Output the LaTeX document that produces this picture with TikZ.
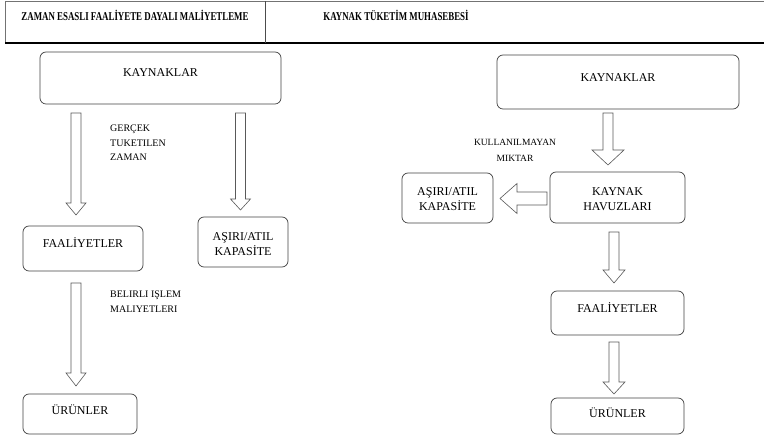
\documentclass[tikz,border=0pt]{standalone}
\usepackage{fontspec}
\setmainfont{Liberation Serif}
\usetikzlibrary{calc}
\tikzset{
  box/.style={draw=black!75, line width=0.7pt, rounded corners=6pt, inner sep=0pt},
  txt/.style={font=\fontsize{12}{15}\selectfont, align=center, inner sep=0pt},
  lbl/.style={font=\fontsize{10}{14.5}\selectfont, align=left, inner sep=0pt, anchor=west},
  hdr/.style={font=\bfseries\fontsize{12}{14}\selectfont, inner sep=0pt},
  arr/.style={draw=black!65, line width=0.6pt, fill=white}
}
\newcommand{\hdrtext}[1]{\scalebox{0.74}[1]{#1}}
% down block arrow: start, end, shaft half, head half, head length
\newcommand{\blkdown}[5]{%
  \draw[arr] let \p1=(#1), \p2=(#2) in
    (\x1-#3pt,\y1) -- (\x1+#3pt,\y1) -- (\x1+#3pt,\y2+#5pt) -- (\x1+#4pt,\y2+#5pt)
    -- (\x1,\y2) -- (\x1-#4pt,\y2+#5pt) -- (\x1-#3pt,\y2+#5pt) -- cycle;}
% left block arrow
\newcommand{\blkleft}[5]{%
  \draw[arr] let \p1=(#1), \p2=(#2) in
    (\x1,\y1+#3pt) -- (\x1,\y1-#3pt) -- (\x2+#5pt,\y1-#3pt) -- (\x2+#5pt,\y1-#4pt)
    -- (\x2,\y1) -- (\x2+#5pt,\y1+#4pt) -- (\x2+#5pt,\y1+#3pt) -- cycle;}
\begin{document}
\begin{tikzpicture}[x=1pt,y=-1pt]
\useasboundingbox (0,0) rectangle (764,435);
% header
\draw[black!55, line width=0.7pt] (764,1.3) -- (5,1.3) -- (5,43);
\draw[black, line width=1.2pt] (5,43) -- (764,43);
\draw[black!70, line width=0.6pt] (265,1.3) -- (265,43);
\node[hdr] (h1) at (135,15) {\hdrtext{ZAMAN ESASLI FAALİYETE DAYALI MALİYETLEME}};
\node[hdr] (h2) at (396,15) {\hdrtext{KAYNAK TÜKETİM MUHASEBESİ}};

% ---------- left side ----------
\node[box, minimum width=241pt, minimum height=52pt] (k1) at (160.5,78) {};
\node[txt] (k1t) at (160.5,73) {KAYNAKLAR};
\node[box, minimum width=120pt, minimum height=45pt] (f1) at (83,248.5) {};
\node[txt] (f1t) at (83,243) {FAALİYETLER};
\node[box, minimum width=90pt, minimum height=50pt] (a1) at (243,242) {};
\node[txt] (a1t) at (243,244) {AŞIRI/ATIL\\KAPASİTE};
\node[box, minimum width=114pt, minimum height=40pt] (u1) at (80,414) {};
\node[txt] (u1t) at (80,409.5) {ÜRÜNLER};

\coordinate (l1s) at (76,113);  \coordinate (l1e) at (76,215);
\coordinate (l2s) at (240.5,113); \coordinate (l2e) at (240.5,210);
\coordinate (l3s) at (76,283);  \coordinate (l3e) at (76,386);
\blkdown{l1s}{l1e}{5}{10}{12}
\blkdown{l2s}{l2e}{5}{10}{11}
\blkdown{l3s}{l3e}{5}{10}{13}

\node[lbl] (g1) at (110,143) {GERÇEK\\TUKETILEN\\ZAMAN};
\node[lbl] (b1) at (110,301.5) {BELIRLI IŞLEM\\MALIYETLERI};

% ---------- right side ----------
\node[box, minimum width=242pt, minimum height=54pt] (k2) at (618,82) {};
\node[txt] (k2t) at (618,78) {KAYNAKLAR};
\node[box, minimum width=135pt, minimum height=51pt] (hv) at (617.5,197.5) {};
\node[txt] (hvt) at (617.5,199.5) {KAYNAK\\HAVUZLARI};
\node[box, minimum width=91pt, minimum height=50pt] (a2) at (447.5,198) {};
\node[txt] (a2t) at (447.5,199.5) {AŞIRI/ATIL\\KAPASİTE};
\node[box, minimum width=133pt, minimum height=44pt] (f2) at (617.5,313) {};
\node[txt] (f2t) at (617.5,307.5) {FAALİYETLER};
\node[box, minimum width=133pt, minimum height=36pt] (u2) at (617.5,416) {};
\node[txt] (u2t) at (617.5,413) {ÜRÜNLER};

\coordinate (r1s) at (608,113); \coordinate (r1e) at (608,165);
\coordinate (r2s) at (547,198.5); \coordinate (r2e) at (500,198.5);
\coordinate (r3s) at (614,232); \coordinate (r3e) at (614,283);
\coordinate (r4s) at (614,342); \coordinate (r4e) at (614,394);
\blkdown{r1s}{r1e}{5}{16}{15}
\blkleft{r2s}{r2e}{6.5}{15}{17}
\blkdown{r3s}{r3e}{5}{11}{13}
\blkdown{r4s}{r4e}{5}{11}{12}

\node[txt, font=\fontsize{9.5}{16}\selectfont] (km) at (515,150) {KULLANILMAYAN\\MIKTAR};
\end{tikzpicture}
\end{document}
